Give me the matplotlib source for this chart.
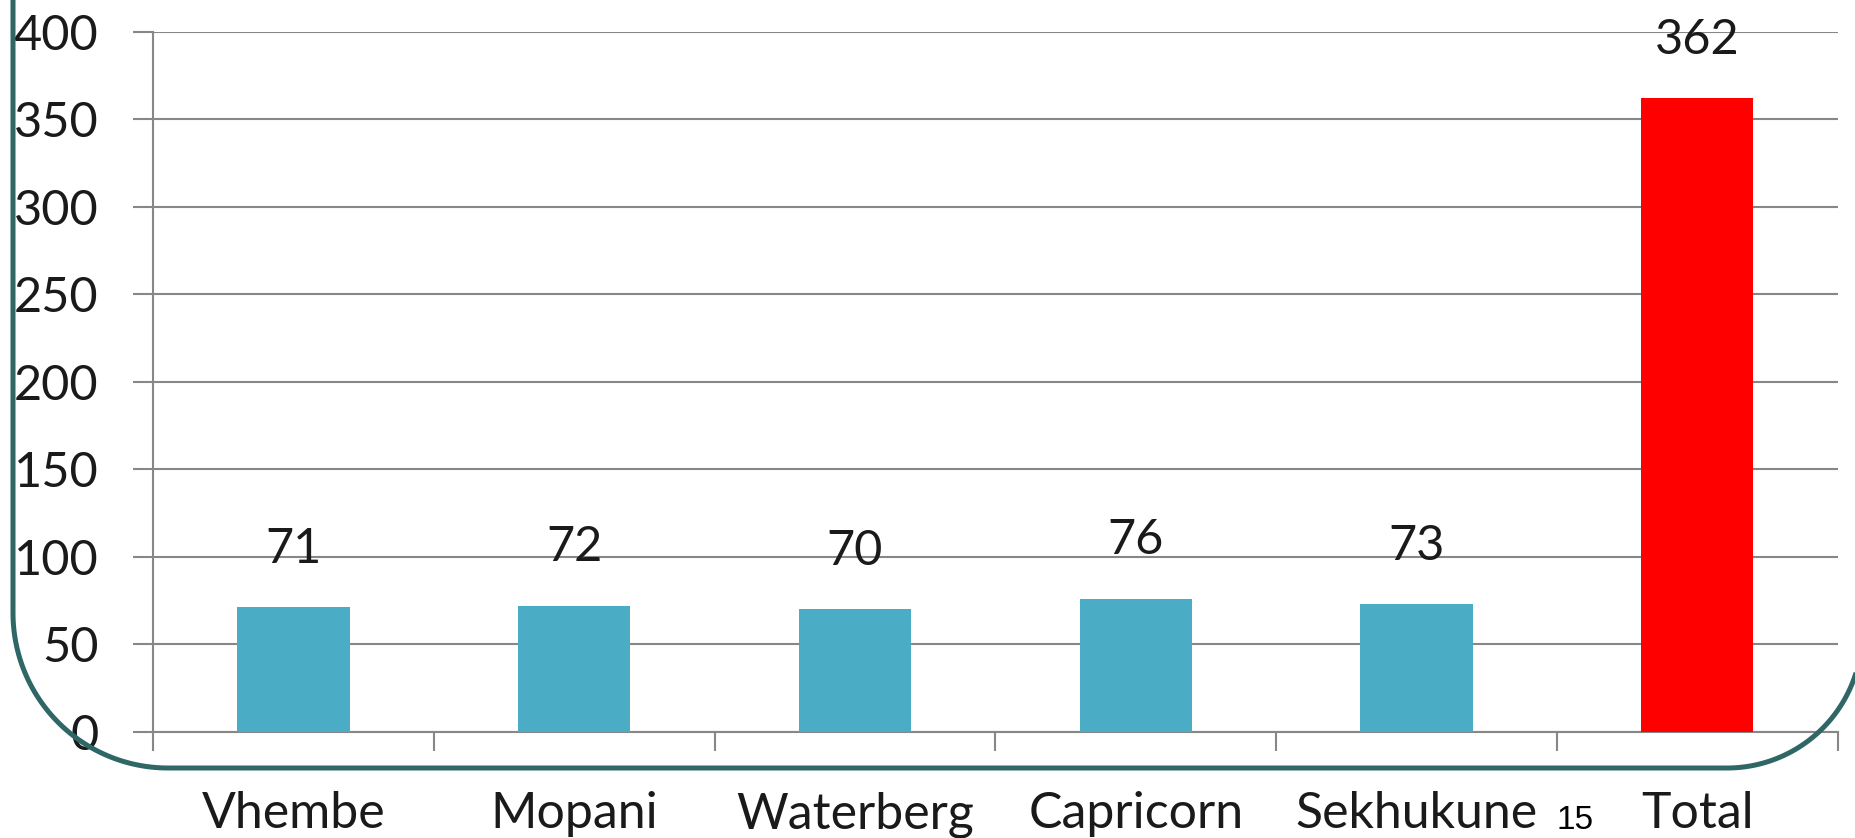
import numpy as np
import matplotlib.pyplot as plt

regions = ["Vhembe", "Mopani", "Waterberg", "Capricorn", "Sekhukune", "Total"]
counts = [71, 72, 70, 76, 73, 362]
y_ticks = [0, 50, 100, 150, 200, 250, 300, 350, 400]
slide_number = "15"

teal = "#4BACC6"
red = "#FF0000"
grid_grey = "#878787"
text_col = "#1A1A1A"
border_col = "#2F6666"

plt.rcParams["font.family"] = ["Lato", "DejaVu Sans"]

fig = plt.figure(figsize=(18.56, 8.38), dpi=100)
ax = fig.add_axes([153 / 1856, 1 - 731.7 / 838, (1837.7 - 153) / 1856, 700 / 838])

x = list(range(len(regions)))
bar_colors = [teal] * (len(regions) - 1) + [red]
ax.bar(x, counts, width=0.4, color=bar_colors, zorder=3)

# value labels above each bar
for xi, v in zip(x, counts):
    ax.annotate(str(v), (xi, v), xytext=(0, 32), textcoords="offset points",
                ha="center", va="baseline", fontsize=35, color=text_col)

ax.set_xlim(-0.5, len(regions) - 0.5)
ax.set_ylim(0, 400)
ax.set_yticks(y_ticks)
ax.yaxis.grid(True, color=grid_grey, linewidth=1.5, zorder=0)
ax.tick_params(axis="y", length=14.4, width=1.5, color=grid_grey, pad=25,
               labelsize=35, labelcolor=text_col)

# category labels at centres, tick marks at boundaries
ax.set_xticks(x, regions)
ax.tick_params(axis="x", which="major", length=0, pad=43, labelsize=36,
               labelcolor=text_col)
ax.set_xticks([i - 0.5 for i in range(len(regions) + 1)], minor=True)
ax.tick_params(axis="x", which="minor", length=14, width=1.5, color=grid_grey)

for s in ["top", "right"]:
    ax.spines[s].set_visible(False)
for s in ["left", "bottom"]:
    ax.spines[s].set_color(grid_grey)
    ax.spines[s].set_linewidth(1.5)

# slide frame drawn in pixel units on top (rounded bottom corners)
over = fig.add_axes([0, 0, 1, 1])
over.set_xlim(0, 1856)
over.set_ylim(838, 0)
over.axis("off")
left_x, bottom_y, right_corner_x = 13, 768, 1727
r_left, r_right = 155, 135
t = np.linspace(0, np.pi / 2, 60)
arc_l_x = left_x + r_left - r_left * np.cos(t)
arc_l_y = bottom_y - r_left + r_left * np.sin(t)
arc_r_x = right_corner_x + r_right * np.sin(t)
arc_r_y = bottom_y - r_right * (1 - np.cos(t))
fx = np.concatenate([[left_x], arc_l_x, arc_r_x, [right_corner_x + r_right]])
fy = np.concatenate([[-20], arc_l_y, arc_r_y, [-20]])
over.plot(fx, fy, color=border_col, linewidth=3.6, solid_capstyle="butt",
          solid_joinstyle="round", clip_on=False)
over.text(1575, 829, slide_number, fontsize=24, family="Liberation Sans",
          ha="center", va="baseline", color="black")

fig.savefig("out.png", dpi=100)
